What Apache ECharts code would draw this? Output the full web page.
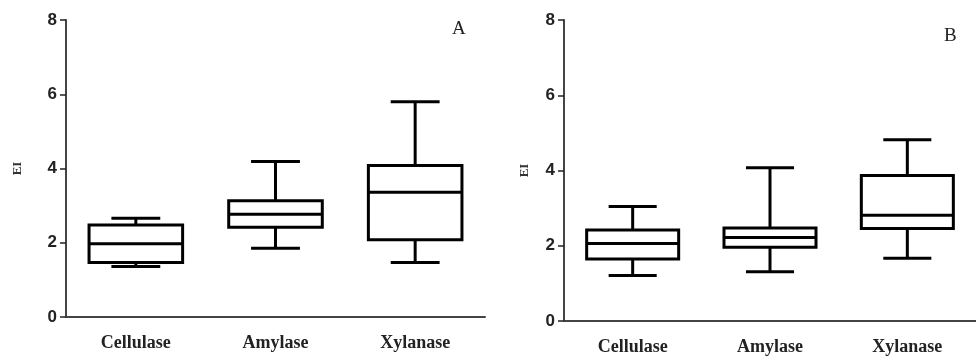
<!DOCTYPE html>
<html>
  <head>
    <meta charset="UTF-8">
    <title>EI boxplots</title>
    <script src="https://cdn.jsdelivr.net/npm/echarts@6/dist/echarts.min.js"></script>
    <style>
      body { margin: 0; background: #fff; }
    </style>
  </head>
  <body>
    <div id="myChart" style="width: 976px;height:356px;"></div>
    <script type="text/javascript">
      // categories and tick labels
      var enzymes = ['Cellulase', 'Amylase', 'Xylanase'];
      var yTicks = [0, 2, 4, 6, 8];

      // [low whisker, Q1, median, Q3, high whisker]
      var panelA = [
        [1.36, 1.47, 1.97, 2.48, 2.66],
        [1.85, 2.42, 2.77, 3.13, 4.19],
        [1.47, 2.08, 3.36, 4.08, 5.80]
      ];
      var panelB = [
        [1.21, 1.65, 2.06, 2.42, 3.04],
        [1.31, 1.96, 2.22, 2.47, 4.07],
        [1.67, 2.46, 2.81, 3.87, 4.82]
      ];

      var myChart = echarts.init(document.getElementById('myChart'));

      function rows(stats) {
        return stats.map(function (s, i) { return [i].concat(s); });
      }

      // box + whiskers, caps narrower than the box
      function renderBox(params, api) {
        var x = api.value(0);
        var lo = api.coord([x, api.value(1)]);
        var q1 = api.coord([x, api.value(2)]);
        var med = api.coord([x, api.value(3)]);
        var q3 = api.coord([x, api.value(4)]);
        var hi = api.coord([x, api.value(5)]);
        var band = api.size([1, 0])[0];
        var hb = band * 0.335;   // half box
        var hc = band * 0.175;   // half cap
        var cx = q1[0];
        var st = { stroke: '#000', lineWidth: 3, fill: null };
        return {
          type: 'group',
          children: [
            { type: 'line', shape: { x1: cx, y1: q3[1], x2: cx, y2: hi[1] }, style: st },
            { type: 'line', shape: { x1: cx, y1: q1[1], x2: cx, y2: lo[1] }, style: st },
            { type: 'line', shape: { x1: cx - hc, y1: hi[1], x2: cx + hc, y2: hi[1] }, style: st },
            { type: 'line', shape: { x1: cx - hc, y1: lo[1], x2: cx + hc, y2: lo[1] }, style: st },
            { type: 'rect', shape: { x: cx - hb, y: q3[1], width: hb * 2, height: q1[1] - q3[1] },
              style: { stroke: '#000', lineWidth: 3, fill: '#fff' } },
            { type: 'line', shape: { x1: cx - hb, y1: med[1], x2: cx + hb, y2: med[1] }, style: st }
          ]
        };
      }

      function xAxisOf(idx) {
        return {
          type: 'category',
          gridIndex: idx,
          data: enzymes,
          boundaryGap: true,
          axisLine: { lineStyle: { color: '#444', width: 2 } },
          axisTick: { alignWithLabel: true, length: 6, lineStyle: { color: '#222', width: 1.5 } },
          axisLabel: {
            margin: 17,
            color: '#222',
            fontFamily: 'Liberation Serif',
            fontWeight: 'bold',
            fontSize: 18
          },
          splitLine: { show: false }
        };
      }

      function yAxisOf(idx, gap) {
        return {
          type: 'value',
          gridIndex: idx,
          min: yTicks[0],
          max: yTicks[yTicks.length - 1],
          interval: 2,
          name: 'EI',
          nameLocation: 'middle',
          nameRotate: 90,
          nameGap: gap,
          nameTextStyle: { fontFamily: 'Liberation Serif', fontWeight: 'bold', fontSize: 13, color: '#333' },
          axisLine: { show: true, lineStyle: { color: '#444', width: 2 } },
          axisTick: { show: true, length: 6, lineStyle: { color: '#222', width: 1.5 } },
          axisLabel: {
            margin: 9,
            color: '#222',
            fontFamily: 'Liberation Sans',
            fontWeight: 'bold',
            fontSize: 17
          },
          splitLine: { show: false }
        };
      }

      myChart.setOption({
        animation: false,
        backgroundColor: '#fff',
        title: [
          { text: 'A', left: 447, top: 15,
            textStyle: { fontFamily: 'Liberation Serif', fontWeight: 'normal', fontSize: 19, color: '#222' } },
          { text: 'B', left: 939, top: 22,
            textStyle: { fontFamily: 'Liberation Serif', fontWeight: 'normal', fontSize: 19, color: '#222' } }
        ],
        grid: [
          { left: 66, top: 20, width: 419, height: 297 },
          { left: 564, top: 20, width: 416, height: 302 }
        ],
        xAxis: [xAxisOf(0), xAxisOf(1)],
        yAxis: [yAxisOf(0, 42), yAxisOf(1, 33)],
        series: [
          { type: 'custom', xAxisIndex: 0, yAxisIndex: 0, renderItem: renderBox,
            encode: { x: 0, y: [1, 2, 3, 4, 5] }, data: rows(panelA) },
          { type: 'custom', xAxisIndex: 1, yAxisIndex: 1, renderItem: renderBox,
            encode: { x: 0, y: [1, 2, 3, 4, 5] }, data: rows(panelB) }
        ]
      });
    </script>
  </body>
</html>
